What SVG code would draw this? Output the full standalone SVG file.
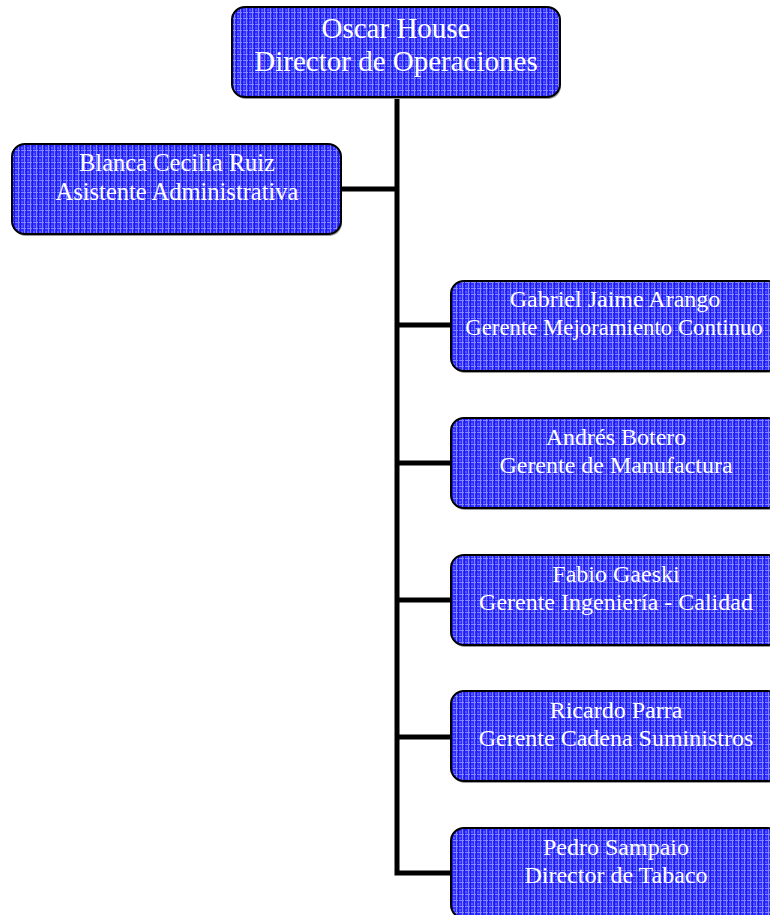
<svg xmlns="http://www.w3.org/2000/svg" width="770" height="915" viewBox="0 0 770 915">
<defs>
<pattern id="grid" width="6" height="6" patternUnits="userSpaceOnUse">
<rect width="6" height="6" fill="#2e2eff"/>
<rect x="0" y="0" width="6" height="1" fill="#8585ff"/>
<rect x="0" y="0" width="1" height="6" fill="#8585ff"/>
<rect x="3" y="3" width="2" height="2" fill="#5a5aff"/>
<rect x="2" y="0" width="1" height="6" fill="#1a1af0"/>
</pattern>
</defs>
<style>
.box{fill:url(#grid);stroke:#000;stroke-width:2}
.sh{fill:#9a9a9a}
.t{font-family:"Liberation Serif","Times New Roman",serif;fill:#fff;text-anchor:middle}
.big{font-size:29px}
.mid{font-size:24px}
.conn{stroke:#000;stroke-width:5;fill:none}
</style>
<g id="connectors">
<path class="conn" d="M397 97 V873 H451"/>
<path class="conn" d="M341 189 H397"/>
<path class="conn" d="M397 325 H451"/>
<path class="conn" d="M397 463 H451"/>
<path class="conn" d="M397 600 H451"/>
<path class="conn" d="M397 737 H451"/>
</g>
<g id="oscar">
<rect class="sh" x="233" y="9" width="328" height="90" rx="13"/>
<rect class="box" x="232" y="7" width="328" height="90" rx="13"/>
<text class="t big" x="396" y="38">Oscar House</text>
<text class="t big" x="396" y="71">Director de Operaciones</text>
</g>
<g id="blanca">
<rect class="sh" x="13" y="146" width="329" height="90" rx="13"/>
<rect class="box" x="12" y="144" width="329" height="90" rx="13"/>
<text class="t mid" x="177" y="171" style="font-size:24.5px">Blanca Cecilia Ruiz</text>
<text class="t mid" x="177" y="200" style="font-size:24.5px">Asistente Administrativa</text>
</g>
<g id="gabriel">
<rect class="sh" x="452" y="283" width="330" height="90" rx="13"/>
<rect class="box" x="451" y="281" width="330" height="90" rx="13"/>
<text class="t mid" x="615" y="307">Gabriel Jaime Arango</text>
<text class="t mid" x="614" y="335" style="font-size:22.8px">Gerente Mejoramiento Continuo</text>
</g>
<g id="andres">
<rect class="sh" x="452" y="420" width="330" height="90" rx="13"/>
<rect class="box" x="451" y="418" width="330" height="90" rx="13"/>
<text class="t mid" x="616" y="445">Andrés Botero</text>
<text class="t mid" x="616" y="473">Gerente de Manufactura</text>
</g>
<g id="fabio">
<rect class="sh" x="452" y="557" width="330" height="90" rx="13"/>
<rect class="box" x="451" y="555" width="330" height="90" rx="13"/>
<text class="t mid" x="616" y="582">Fabio Gaeski</text>
<text class="t mid" x="616" y="610">Gerente Ingeniería - Calidad</text>
</g>
<g id="ricardo">
<rect class="sh" x="452" y="693" width="330" height="90" rx="13"/>
<rect class="box" x="451" y="691" width="330" height="90" rx="13"/>
<text class="t mid" x="616" y="718">Ricardo Parra</text>
<text class="t mid" x="616" y="746">Gerente Cadena Suministros</text>
</g>
<g id="pedro">
<rect class="sh" x="452" y="830" width="330" height="90" rx="13"/>
<rect class="box" x="451" y="828" width="330" height="90" rx="13"/>
<text class="t mid" x="616" y="855">Pedro Sampaio</text>
<text class="t mid" x="616" y="883">Director de Tabaco</text>
</g>
</svg>
